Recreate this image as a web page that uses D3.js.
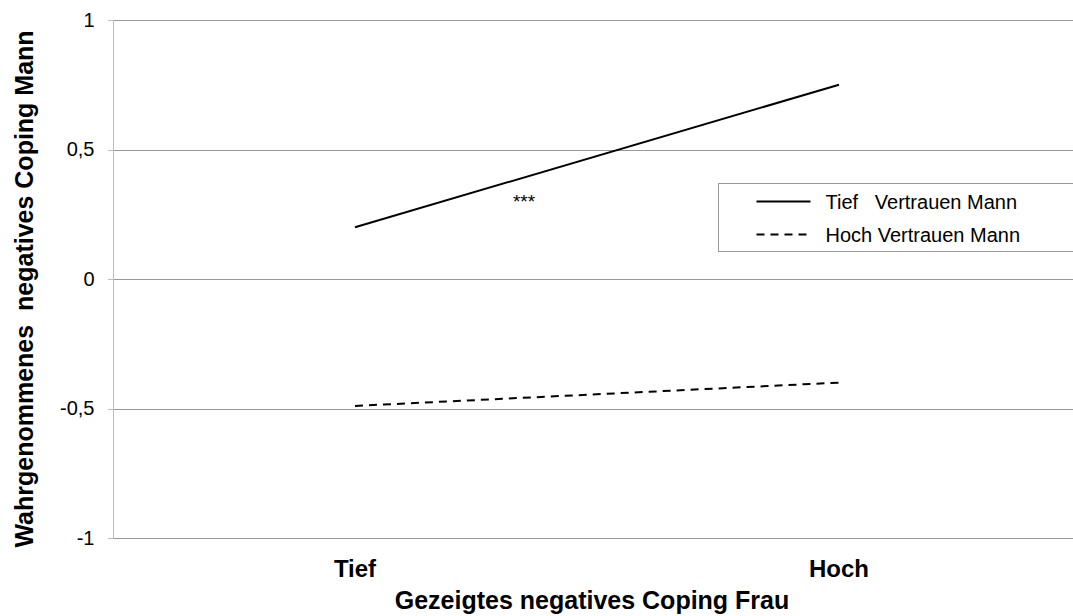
<!DOCTYPE html>
<html>
<head>
<meta charset="utf-8">
<script src="https://cdn.jsdelivr.net/npm/d3@7"></script>
<style>
  html, body { margin: 0; padding: 0; background: #fff; overflow: hidden; }
  svg { display: block; font-family: 'Liberation Sans', Arial, sans-serif; }
  .grid line { stroke: #999; shape-rendering: crispEdges; }
  .axis path, .axis line { stroke: #bdbdbd; shape-rendering: crispEdges; }
  .axis text { fill: #000; font-size: 20px; }
</style>
</head>
<body>
<svg id="chart" width="1073" height="616"></svg>
<script>
// data
const categories = ['Tief', 'Hoch']
const seriesNames = ['Tief   Vertrauen Mann', 'Hoch Vertrauen Mann']
const tiefVertrauen = [0.2, 0.75]
const hochVertrauen = [-0.49, -0.40]
const yTicks = [-1, -0.5, 0, 0.5, 1]
const xTitle = 'Gezeigtes negatives Coping Frau'
const yTitle = 'Wahrgenommenes  negatives Coping Mann'
const note = '***'

const series = [
  { name: seriesNames[0], values: tiefVertrauen, dash: null },
  { name: seriesNames[1], values: hochVertrauen, dash: '8,6' }
]

//

const svg = d3.select('#chart')
const margin = { top: 20, left: 113 }
const plotW = 968
const plotH = 518

const x = d3.scalePoint()
  .domain(categories)
  .range([margin.left, margin.left + plotW])
  .padding(0.5)

const y = d3.scaleLinear()
  .domain([-1, 1])
  .range([margin.top + plotH, margin.top])

const fmt = (d) => String(d).replace('.', ',')

// gridlines
svg.append('g')
    .attr('class', 'grid')
  .selectAll('line')
  .data(yTicks)
  .enter().append('line')
    .attr('x1', margin.left)
    .attr('x2', margin.left + plotW)
    .attr('y1', (d) => Math.round(y(d)) + 0.5)
    .attr('y2', (d) => Math.round(y(d)) + 0.5)

// y axis
const yAxis = d3.axisLeft(y)
  .tickValues(yTicks)
  .tickFormat(fmt)
  .tickSize(6)
  .tickPadding(13)

svg.append('g')
    .attr('class', 'axis axis--y')
    .attr('transform', `translate(${margin.left + 0.5},0)`)
    .call(yAxis)
    .call((g) => g.select('.domain').attr('d', `M0,${y(1)}V${y(-1)}`))
    .call((g) => g.selectAll('.tick line').attr('stroke', '#999'))

// x category labels
svg.append('g')
  .selectAll('text')
  .data(categories)
  .enter().append('text')
    .attr('x', (d) => x(d))
    .attr('y', 577)
    .attr('text-anchor', 'middle')
    .attr('font-size', '24px')
    .attr('font-weight', 'bold')
    .text((d) => d)

// axis titles
svg.append('text')
    .attr('x', 592)
    .attr('y', 609)
    .attr('text-anchor', 'middle')
    .attr('font-size', '25px')
    .attr('font-weight', 'bold')
    .text(xTitle)

svg.append('text')
    .attr('transform', `translate(33,289) rotate(-90)`)
    .attr('text-anchor', 'middle')
    .attr('font-size', '25px')
    .attr('font-weight', 'bold')
    .style('white-space', 'pre')
    .text(yTitle)

// lines
const line = d3.line()
  .x((d, i) => x(categories[i]))
  .y((d) => y(d))

svg.append('g')
  .selectAll('path')
  .data(series)
  .enter().append('path')
    .attr('d', (d) => line(d.values))
    .attr('fill', 'none')
    .attr('stroke', '#000')
    .attr('stroke-width', 2)
    .attr('stroke-dasharray', (d) => d.dash)

// significance mark
svg.append('text')
    .attr('x', 524)
    .attr('y', 208)
    .attr('text-anchor', 'middle')
    .attr('font-size', '19px')
    .text(note)

// legend
const legend = svg.append('g')
    .attr('transform', 'translate(718.5,183.5)')

legend.append('rect')
    .attr('width', 400)
    .attr('height', 68)
    .attr('fill', '#fff')
    .attr('stroke', '#999')

const rows = legend.selectAll('g.row')
  .data(series)
  .enter().append('g')
    .attr('class', 'row')
    .attr('transform', (d, i) => `translate(0,${18 + i * 33})`)

rows.append('line')
    .attr('x1', 38)
    .attr('x2', 92)
    .attr('stroke', '#000')
    .attr('stroke-width', 2)
    .attr('stroke-dasharray', (d) => d.dash)

rows.append('text')
    .attr('x', 107)
    .attr('y', 7)
    .attr('font-size', '20px')
    .style('white-space', 'pre')
    .text((d) => d.name)
</script>
</body>
</html>
